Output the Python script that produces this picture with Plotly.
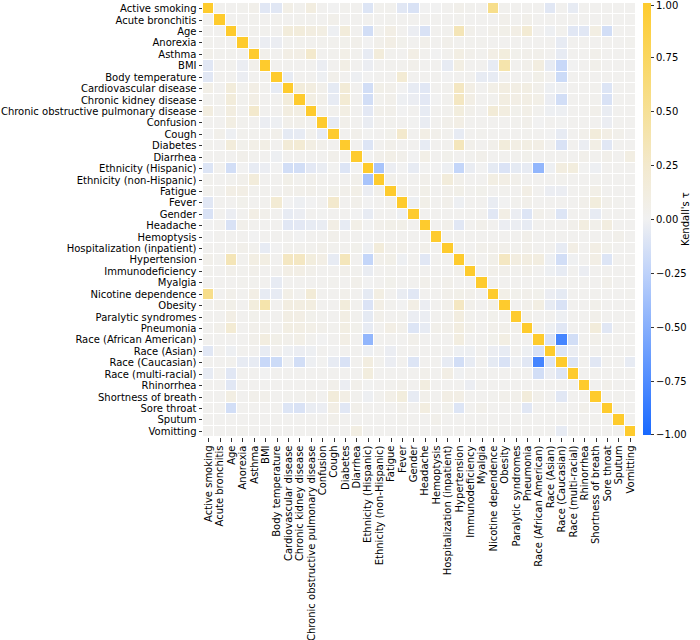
import plotly.graph_objects as go

labels = ["Active smoking", "Acute bronchitis", "Age", "Anorexia", "Asthma", "BMI",
          "Body temperature", "Cardiovascular disease", "Chronic kidney disease",
          "Chronic obstructive pulmonary disease", "Confusion", "Cough", "Diabetes",
          "Diarrhea", "Ethnicity (Hispanic)", "Ethnicity (non-Hispanic)", "Fatigue",
          "Fever", "Gender", "Headache", "Hemoptysis", "Hospitalization (inpatient)",
          "Hypertension", "Immunodeficiency", "Myalgia", "Nicotine dependence",
          "Obesity", "Paralytic syndromes", "Pneumonia", "Race (African American)",
          "Race (Asian)", "Race (Caucasian)", "Race (multi-racial)", "Rhinorrhea",
          "Shortness of breath", "Sore throat", "Sputum", "Vomitting"]

# upper triangle: row i lists tau values for columns i+1 .. 37
upper = [
    [0.02, 0.02, 0.03, 0.05, -0.08, -0.08, 0.07, 0.03, 0.12, 0.02, 0.00, 0.03, 0.02, -0.10, 0.03, 0.03, -0.08, -0.12, 0.00, 0.00, 0.02, 0.05, 0.03, 0.02, 0.55, 0.03, 0.02, 0.02, 0.02, -0.08, 0.02, -0.05, 0.02, 0.02, 0.02, 0.02, 0.02],
    [0.02, 0.02, 0.03, 0.02, 0.02, 0.02, 0.03, 0.03, 0.02, 0.05, 0.02, 0.02, 0.02, 0.02, 0.03, 0.02, 0.02, 0.02, 0.02, 0.02, 0.03, 0.02, 0.02, 0.02, 0.05, 0.02, 0.05, 0.02, 0.02, 0.02, 0.02, 0.02, 0.02, 0.02, 0.02, 0.02],
    [0.02, 0.03, 0.03, 0.02, 0.15, 0.15, 0.12, 0.10, -0.02, 0.15, 0.02, -0.15, 0.03, 0.08, 0.02, -0.03, -0.12, 0.02, 0.03, 0.35, 0.05, 0.02, 0.05, 0.06, 0.08, 0.20, 0.02, -0.02, 0.03, -0.08, -0.08, 0.10, -0.15, 0.02, 0.02],
    [0.02, -0.03, -0.03, 0.03, 0.03, 0.03, 0.03, 0.03, 0.04, 0.05, 0.00, 0.05, 0.08, 0.04, 0.02, 0.05, 0.02, 0.05, 0.03, 0.03, 0.03, 0.02, 0.02, 0.02, 0.02, 0.02, 0.02, -0.05, 0.02, 0.02, 0.02, 0.02, 0.02, 0.03],
    [0.05, 0.02, 0.08, 0.08, 0.25, 0.02, 0.03, 0.07, 0.03, -0.05, 0.15, 0.03, 0.02, 0.08, 0.03, 0.00, 0.03, 0.10, 0.05, 0.03, 0.08, 0.14, 0.04, 0.05, 0.05, 0.02, -0.05, 0.02, 0.02, 0.05, 0.02, 0.02, 0.02],
    [0.03, 0.03, 0.02, 0.02, -0.03, 0.02, 0.08, 0.02, -0.03, 0.02, 0.03, 0.03, 0.05, 0.02, 0.02, -0.05, 0.10, 0.02, 0.02, -0.05, 0.40, 0.03, 0.05, 0.12, -0.05, -0.20, 0.00, 0.02, 0.05, 0.02, 0.02, 0.02],
    [-0.05, 0.02, 0.02, -0.02, 0.05, 0.02, -0.02, 0.00, 0.02, 0.02, 0.20, 0.02, 0.02, 0.02, 0.00, 0.02, 0.02, -0.05, -0.05, 0.02, 0.02, 0.02, 0.06, 0.02, -0.18, 0.02, 0.02, 0.02, 0.02, 0.02, 0.02],
    [0.15, 0.12, 0.05, -0.06, 0.18, 0.02, -0.15, 0.06, 0.05, 0.00, -0.05, -0.08, 0.02, 0.03, 0.30, 0.08, 0.02, 0.07, 0.11, 0.09, 0.10, 0.05, -0.02, -0.02, 0.02, 0.02, 0.03, -0.10, 0.02, 0.02],
    [0.10, 0.05, -0.05, 0.20, 0.02, -0.15, 0.03, 0.05, -0.02, -0.03, -0.07, 0.00, 0.03, 0.30, 0.08, 0.02, 0.03, 0.11, 0.08, 0.09, 0.07, -0.03, -0.15, 0.02, 0.02, 0.03, -0.12, 0.02, 0.02],
    [0.03, 0.03, 0.10, 0.02, -0.07, 0.05, 0.05, 0.00, 0.02, -0.05, 0.02, 0.03, 0.14, 0.05, 0.02, 0.18, 0.12, 0.04, 0.07, 0.03, -0.02, -0.02, 0.02, 0.02, 0.05, -0.04, 0.02, 0.02],
    [-0.05, 0.05, 0.02, -0.04, 0.02, 0.03, 0.02, 0.01, -0.04, 0.02, 0.05, 0.08, 0.02, 0.02, 0.02, 0.02, 0.03, 0.05, 0.00, 0.02, 0.01, 0.02, 0.02, 0.02, -0.03, 0.02, 0.02],
    [0.02, 0.05, 0.01, 0.02, 0.04, 0.25, 0.02, 0.08, 0.05, 0.03, -0.05, 0.02, 0.03, 0.02, 0.02, 0.02, 0.03, 0.02, 0.00, -0.05, 0.02, 0.05, 0.15, 0.08, 0.05, 0.02],
    [0.02, -0.10, 0.02, 0.05, 0.02, 0.02, -0.05, 0.02, 0.03, 0.33, 0.05, 0.02, 0.05, 0.15, 0.09, 0.10, 0.08, 0.02, -0.12, 0.02, -0.03, 0.08, -0.08, 0.02, 0.02],
    [0.00, 0.05, 0.07, 0.05, 0.00, 0.07, 0.02, 0.04, 0.02, 0.03, 0.05, 0.02, 0.03, 0.03, 0.04, 0.02, 0.02, 0.02, 0.02, 0.05, 0.03, 0.05, 0.02, 0.10],
    [-0.35, -0.03, 0.00, -0.05, 0.01, 0.00, -0.02, -0.22, -0.04, 0.00, -0.06, -0.11, -0.06, -0.05, -0.45, -0.02, 0.12, 0.13, 0.01, -0.02, 0.02, 0.02, 0.02],
    [0.05, 0.02, 0.02, 0.05, 0.02, 0.15, 0.05, 0.02, 0.02, 0.10, 0.08, 0.05, 0.02, 0.02, 0.02, 0.03, 0.02, 0.02, 0.03, 0.02, 0.02, 0.02],
    [0.05, 0.02, 0.06, 0.02, 0.05, 0.06, 0.03, 0.04, 0.02, 0.03, 0.02, 0.08, 0.02, -0.03, -0.03, 0.02, 0.03, 0.07, 0.02, 0.02, 0.02],
    [-0.02, 0.06, 0.02, 0.05, -0.02, 0.02, 0.02, -0.04, 0.00, 0.03, 0.05, 0.02, 0.02, 0.02, 0.02, 0.05, 0.14, 0.05, 0.03, 0.02],
    [0.02, 0.02, 0.02, 0.02, 0.02, 0.02, -0.08, 0.08, -0.03, -0.10, 0.05, 0.02, -0.10, 0.02, 0.02, -0.05, 0.02, 0.02, 0.02],
    [0.02, 0.05, -0.08, 0.02, 0.05, 0.02, -0.03, -0.03, -0.05, 0.02, 0.02, 0.02, 0.05, 0.12, 0.05, 0.12, 0.02, 0.02],
    [0.02, 0.02, 0.02, 0.02, 0.02, 0.02, 0.02, 0.05, 0.02, 0.02, 0.02, 0.02, 0.02, 0.02, 0.02, 0.05, 0.02],
    [0.03, 0.02, 0.05, 0.05, 0.05, 0.03, 0.05, 0.02, 0.02, -0.05, 0.08, 0.02, 0.08, 0.04, 0.02, 0.02],
    [0.05, 0.02, 0.06, 0.30, 0.12, 0.12, 0.12, -0.02, -0.15, -0.01, 0.02, 0.08, -0.10, 0.02, 0.02],
    [0.02, 0.05, 0.05, 0.03, 0.05, 0.02, -0.02, -0.05, 0.02, -0.03, 0.02, 0.02, 0.02, 0.02],
    [0.02, 0.02, 0.02, 0.02, 0.02, 0.02, 0.02, 0.02, 0.02, 0.02, 0.05, 0.02, 0.02],
    [0.07, 0.04, 0.05, 0.04, -0.03, -0.06, 0.02, 0.02, 0.03, 0.02, 0.02, 0.03],
    [0.02, 0.05, 0.10, -0.05, -0.12, 0.02, 0.02, 0.05, 0.02, 0.02, 0.02],
    [0.05, 0.02, 0.02, -0.02, 0.02, 0.02, 0.05, 0.02, 0.02, 0.02],
    [0.02, -0.02, -0.08, 0.02, 0.02, 0.15, -0.08, 0.02, 0.02],
    [-0.12, -0.80, -0.15, 0.02, 0.05, 0.02, 0.02, 0.02],
    [-0.10, -0.03, 0.02, 0.02, 0.02, 0.02, 0.02],
    [-0.10, 0.02, -0.08, 0.02, 0.02, -0.05],
    [0.02, 0.02, 0.02, 0.02, 0.02],
    [0.02, 0.05, 0.02, 0.02],
    [0.02, 0.03, 0.02],
    [0.03, 0.02],
    [0.02],
    [],
]

cbar_vals = [0.99, 0.75, 0.5, 0.25, 0.0, -0.25, -0.5, -0.75, -0.9999]
cbar_text = ["1.00", "0.75", "0.50", "0.25", "0.00", "\u22120.25", "\u22120.50", "\u22120.75", "\u22121.00"]

n = len(labels)
z = [[1.0 if i == j else None for j in range(n)] for i in range(n)]
for i, row in enumerate(upper):
    for k, v in enumerate(row):
        j = i + 1 + k
        z[i][j] = v
        z[j][i] = v

colorscale = [
    [0.0, "rgb(25,105,255)"],
    [0.125, "rgb(80,140,255)"],
    [0.25, "rgb(135,175,252)"],
    [0.375, "rgb(190,210,250)"],
    [0.5, "rgb(241,241,241)"],
    [0.625, "rgb(243,233,205)"],
    [0.75, "rgb(246,224,150)"],
    [0.875, "rgb(250,214,95)"],
    [1.0, "rgb(254,203,45)"],
]

fig = go.Figure(go.Heatmap(
    z=z, x=labels, y=labels, zmin=-1, zmax=1,
    colorscale=colorscale, xgap=1, ygap=1,
    colorbar=dict(
        x=1.016, xanchor="left", xpad=0, ypad=0,
        y=1.0, yanchor="top", len=0.995, lenmode="fraction",
        thickness=8, outlinewidth=0,
        tickmode="array", tickvals=cbar_vals, ticktext=cbar_text,
        ticks="outside", ticklen=3.5, tickcolor="#333",
        ticklabeloverflow="allow",
        tickfont=dict(family="DejaVu Sans", size=10, color="black"),
        title=dict(text="Kendall's \u03c4", side="right",
                   font=dict(family="DejaVu Sans", size=10, color="black")),
    ),
))

fig.update_layout(
    width=700, height=640,
    margin=dict(l=203, r=64, t=3, b=203, autoexpand=False),
    paper_bgcolor="white", plot_bgcolor="white",
    font=dict(family="DejaVu Sans", size=10, color="black"),
    xaxis=dict(tickangle=-90, ticks="outside", ticklen=3.5, tickcolor="#333",
               tickmode="array", tickvals=labels, ticktext=labels,
               showgrid=False, zeroline=False, showline=False, automargin=False,
               tickfont=dict(size=10)),
    yaxis=dict(autorange="reversed", ticks="outside", ticklen=3.5, tickcolor="#333",
               tickmode="array", tickvals=labels, ticktext=labels,
               showgrid=False, zeroline=False, showline=False, automargin=False,
               tickfont=dict(size=10)),
)

fig.write_html("out.html",
               config={"displayModeBar": False},
               post_script="document.body.style.margin='0';document.body.style.padding='0';")
